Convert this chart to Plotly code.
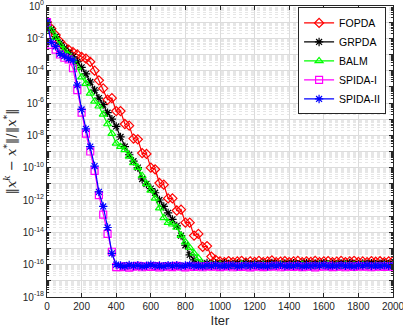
import plotly.graph_objects as go

# iteration axis (every 25 iterations)
iters = list(range(0, 2001, 25))

# log10 of relative error
fopda_log = [-1.0, -1.4, -1.8, -2.2, -2.5, -2.7, -2.85, -3.0, -3.15, -3.25, -3.45, -4.0, -4.6,
             -5.1, -5.8, -5.7, -6.5, -6.5, -7.3, -7.4, -8.2, -8.25, -9.1, -9.15, -10.0, -10.1,
             -10.95, -11.05, -11.9, -11.9, -12.65, -12.6, -13.4, -13.4, -14.2, -14.1, -14.9,
             -14.85, -15.5, -15.7,
             -15.8, -15.85, -15.78, -15.84, -15.8, -15.76, -15.86, -15.8, -15.83, -15.77,
             -15.84, -15.8, -15.74, -15.85, -15.81, -15.78, -15.84, -15.8, -15.77, -15.85,
             -15.8, -15.83, -15.76, -15.84, -15.8, -15.78, -15.85, -15.81, -15.77, -15.84,
             -15.8, -15.76, -15.83, -15.8, -15.85, -15.78, -15.82, -15.79, -15.84, -15.8, -15.78]

grpda_log = [-1.0, -1.45, -1.9, -2.3, -2.6, -2.9, -3.15, -3.45, -3.8, -4.2, -4.7, -5.2, -5.7,
             -6.1, -6.6, -7.0, -7.45, -8.1, -8.7, -9.2, -9.6, -10.0, -10.7, -11.0, -11.3, -11.55,
             -12.0, -12.4, -12.8, -13.2, -13.6, -14.2, -14.8, -15.4, -15.7, -15.95,
             -15.95, -15.9, -15.98, -15.93, -15.97, -15.91, -15.96, -15.99, -15.92, -15.95,
             -15.9, -15.97, -15.94, -15.98, -15.92, -15.96, -15.9, -15.95, -15.99, -15.93,
             -15.96, -15.91, -15.97, -15.94, -15.9, -15.98, -15.93, -15.95, -15.91, -15.97,
             -15.94, -15.99, -15.92, -15.96, -15.9, -15.95, -15.98, -15.93, -15.96, -15.91,
             -15.97, -15.94, -15.92, -15.96, -15.93]

balm_log = [-1.0, -1.5, -1.95, -2.4, -2.75, -3.05, -3.35, -3.8, -4.4, -4.8, -5.4, -5.9, -6.2,
            -6.7, -7.3, -7.9, -8.5, -8.7, -8.9, -9.3, -9.7, -10.0, -10.5, -11.0, -11.4, -11.9,
            -12.5, -13.1, -13.4, -13.5, -13.7, -14.2, -14.6, -14.95, -15.3, -15.6, -16.0,
            -16.08, -16.02, -16.1, -16.0, -16.06, -16.12, -16.03, -16.09, -15.98, -16.05,
            -16.11, -16.02, -16.07, -16.0, -16.1, -16.04, -16.08, -15.99, -16.06, -16.12,
            -16.03, -16.07, -16.01, -16.09, -16.05, -16.11, -16.02, -16.06, -15.99, -16.08,
            -16.04, -16.1, -16.01, -16.07, -16.03, -16.09, -16.0, -16.06, -16.11, -16.04,
            -16.08, -16.02, -16.06, -16.03]

spida1_log = [-1.0, -2.4, -2.7, -3.0, -3.2, -3.3, -3.85, -5.2, -6.6, -7.9, -9.0, -10.2, -11.7,
              -12.9, -14.1, -15.2, -16.15,
              -16.15, -16.1, -16.18, -16.12, -16.08, -16.16, -16.11, -16.14, -16.09, -16.17,
              -16.12, -16.1, -16.15, -16.08, -16.13, -16.17, -16.1, -16.14, -16.11, -16.16,
              -16.09, -16.13, -16.1, -16.15, -16.12, -16.08, -16.16, -16.11, -16.14, -16.1,
              -16.17, -16.12, -16.09, -16.15, -16.11, -16.13, -16.08, -16.16, -16.12, -16.1,
              -16.14, -16.09, -16.15, -16.12, -16.1, -16.17, -16.11, -16.13, -16.08, -16.15,
              -16.12, -16.1, -16.16, -16.11, -16.14, -16.09, -16.13, -16.1, -16.16, -16.12,
              -16.1, -16.14, -16.11, -16.13]

spida2_log = [-1.0, -2.25, -2.5, -2.95, -3.1, -3.25, -3.35, -4.9, -6.4, -7.6, -8.7, -9.9, -11.5,
              -12.4, -13.7, -15.3, -16.0,
              -16.05, -16.1, -16.02, -16.08, -16.04, -16.1, -16.06, -16.0, -16.08, -16.05,
              -16.1, -16.03, -16.07, -16.04, -16.09, -16.05, -16.01, -16.08, -16.06, -16.1,
              -16.04, -16.07, -16.02, -16.09, -16.05, -16.08, -16.03, -16.1, -16.06, -16.04,
              -16.08, -16.02, -16.07, -16.05, -16.1, -16.04, -16.06, -16.01, -16.09, -16.05,
              -16.07, -16.03, -16.1, -16.05, -16.08, -16.04, -16.06, -16.02, -16.09, -16.05,
              -16.08, -16.03, -16.07, -16.05, -16.1, -16.04, -16.06, -16.02, -16.08, -16.05,
              -16.07, -16.04, -16.09, -16.05]

names = ["FOPDA", "GRPDA", "BALM", "SPIDA-I", "SPIDA-II"]
colors = ["#ff0000", "#000000", "#00ff00", "#ff00ff", "#0000ff"]
symbols = ["diamond-open", "asterisk-open", "triangle-up-open", "square-open", "asterisk-open"]
series = [fopda_log, grpda_log, balm_log, spida1_log, spida2_log]

fig = go.Figure()
for name, col, sym, vals in zip(names, colors, symbols, series):
    fig.add_trace(go.Scatter(
        x=iters, y=[10 ** v for v in vals], name=name, mode="lines+markers",
        line=dict(color=col, width=1.2),
        marker=dict(symbol=sym, size=7, color=col, line=dict(color=col, width=1.2)),
    ))

ydec = list(range(0, -19, -1))
fig.update_yaxes(
    type="log", range=[-18, 0], automargin=False, ticklabeloverflow="allow",
    tickvals=[10 ** e for e in ydec],
    ticktext=[("10<sup>%d</sup>" % e if e % 2 == 0 else "") for e in ydec],
    ticks="inside", ticklen=4, tickcolor="#262626",
    showline=True, linecolor="#262626", linewidth=1, mirror="allticks",
    showgrid=True, gridcolor="#dcdcdc", gridwidth=1,
    minor=dict(dtick="D1", ticks="inside", ticklen=2, tickcolor="#262626",
               showgrid=True, gridcolor="#e6e6e6", griddash="dot"),
    tickfont=dict(family="Liberation Sans, Arial", size=10, color="#262626"),
    title=dict(text="‖<i>x</i><sup><i>k</i></sup> − <i>x</i><sup>*</sup>‖/‖<i>x</i><sup>*</sup>‖",
               font=dict(family="DejaVu Serif", size=13, color="#262626"), standoff=3),
    zeroline=False,
)
fig.update_xaxes(
    range=[0, 2000], tickvals=list(range(0, 2001, 200)), automargin=False,
    ticklabeloverflow="allow",
    ticks="inside", ticklen=4, tickcolor="#262626",
    showline=True, linecolor="#262626", linewidth=1, mirror="allticks",
    showgrid=True, gridcolor="#dcdcdc", gridwidth=1,
    tickfont=dict(family="Liberation Sans, Arial", size=10, color="#262626"),
    title=dict(text="Iter", font=dict(family="Liberation Sans, Arial", size=13, color="#262626"),
               standoff=4),
    zeroline=False,
)
fig.update_layout(
    width=403, height=329,
    margin=dict(l=47, r=10, t=6, b=32),
    plot_bgcolor="white", paper_bgcolor="white",
    legend=dict(x=0.98, y=0.995, xanchor="right", yanchor="top",
                bgcolor="white", bordercolor="#262626", borderwidth=1,
                font=dict(family="Liberation Sans, Arial", size=10.5, color="#000000"),
                tracegroupgap=0, itemwidth=30),
)
fig.write_html("out.html", config={"displayModeBar": False},
               post_script="document.body.style.margin='0';")
